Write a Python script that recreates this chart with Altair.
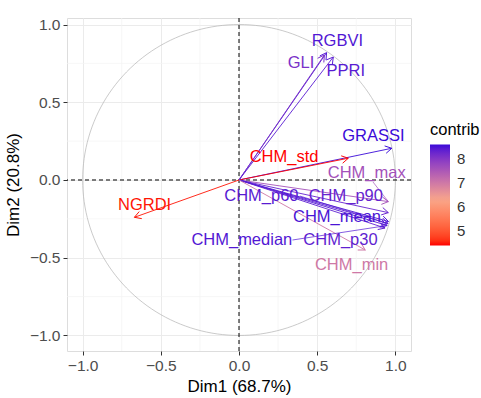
import altair as alt
import pandas as pd

# ---- data ----
names = ["RGBVI", "GLI", "PPRI", "GRASSI", "CHM_std", "NGRDI", "CHM_max",
         "CHM_p90", "CHM_mean", "CHM_p60", "CHM_median", "CHM_p30", "CHM_min"]
dim1 = [0.560, 0.546, 0.603, 0.977, 0.699, -0.669, 0.955,
        0.955, 0.956, 0.953, 0.947, 0.934, 0.807]
dim2 = [0.819, 0.804, 0.791, 0.204, 0.140, -0.240, -0.139,
        -0.210, -0.267, -0.280, -0.293, -0.309, -0.450]
contrib = [8.45, 8.10, 8.40, 8.59, 4.40, 4.45, 7.60,
           8.30, 8.50, 8.40, 8.45, 8.35, 7.00]
label_x = [0.629, 0.397, 0.683, 0.859, 0.288, -0.604, 0.817,
           0.683, 0.627, 0.143, 0.018, 0.649, 0.720]
label_y = [0.896, 0.754, 0.703, 0.283, 0.150, -0.161, 0.043,
           -0.103, -0.240, -0.103, -0.386, -0.386, -0.547]

# repel connector segments (label edge -> arrow tip)
conn_names = ["CHM_max", "CHM_p60", "CHM_median"]
conn_x = [0.857, 0.389, 0.342]
conn_y = [-0.013, -0.103, -0.386]

major_ticks = [-1.0, -0.5, 0.0, 0.5, 1.0]
minor_ticks = [-0.75, -0.25, 0.25, 0.75]
legend_ticks = [5, 6, 7, 8]

df = pd.DataFrame({"name": names, "dim1": dim1, "dim2": dim2, "contrib": contrib,
                   "lx": label_x, "ly": label_y})
conn = pd.DataFrame({"name": conn_names, "cx": conn_x, "cy": conn_y}).merge(
    df[["name", "dim1", "dim2", "contrib"]], on="name")

FONT = "Liberation Sans"
W, H = 344, 333

xs = alt.Scale(domain=[-1.1, 1.1], nice=False, zero=False)
ys = alt.Scale(domain=[-1.10, 1.042], nice=False, zero=False)
xaxis = alt.Axis(values=major_ticks, format=".1f", grid=True, gridColor="#EBEBEB",
                 gridWidth=1, domain=False, ticks=True, tickSize=4, tickColor="#333333",
                 labelFontSize=15.5, labelColor="#4D4D4D", labelFont=FONT, labelPadding=3,
                 titleFontSize=17, titleFont=FONT, titleFontWeight="normal",
                 titleColor="black", titlePadding=5)
yaxis = alt.Axis(values=major_ticks, format=".1f", grid=True, gridColor="#EBEBEB",
                 gridWidth=1, domain=False, ticks=True, tickSize=4, tickColor="#333333",
                 labelFontSize=15.5, labelColor="#4D4D4D", labelFont=FONT, labelPadding=3,
                 titleFontSize=17, titleFont=FONT, titleFontWeight="normal",
                 titleColor="black", titlePadding=7)
XT = "Dim1 (68.7%)"
YT = "Dim2 (20.8%)"

cscale = alt.Scale(domain=[4.40, 6.3, 8.59],
                   range=["#FF0000", "#F9A68A", "#3A0AD8"], interpolate="lab")
legend = alt.Legend(title="contrib", type="gradient", orient="none", legendX=363, legendY=104,
                    direction="vertical", gradientLength=101, gradientThickness=20,
                    values=legend_ticks, titleFontSize=16.5, titleFont=FONT,
                    titleFontWeight="normal", titleColor="black", titlePadding=6,
                    labelFontSize=15, labelFont=FONT, labelColor="#333333",
                    labelOffset=7)
COLOR_LEG = alt.Color("contrib:Q", scale=cscale, legend=legend)
COLOR = alt.Color("contrib:Q", scale=cscale, legend=None)


def X(f):
    return alt.X(f, type="quantitative", scale=xs, axis=xaxis, title=XT)


def Y(f):
    return alt.Y(f, type="quantitative", scale=ys, axis=yaxis, title=YT)


minor_v = alt.Chart(pd.DataFrame({"v": minor_ticks})).mark_rule(
    color="#F3F3F3", strokeWidth=0.7).encode(x=X("v"))
minor_h = alt.Chart(pd.DataFrame({"v": minor_ticks})).mark_rule(
    color="#F3F3F3", strokeWidth=0.7).encode(y=Y("v"))

circle = alt.Chart(alt.sequence(0, 362, 2, as_="t")).transform_calculate(
    cx="cos(datum.t*PI/180)", cy="sin(datum.t*PI/180)"
).mark_line(color="#B3B3B3", strokeWidth=0.7).encode(
    x=X("cx"), y=Y("cy"), order="t:Q")

zero = pd.DataFrame({"v": [0.0]})
vline = alt.Chart(zero).mark_rule(color="black", strokeDash=[4, 3], strokeWidth=1).encode(x=X("v"))
hline = alt.Chart(zero).mark_rule(color="black", strokeDash=[4, 3], strokeWidth=1).encode(y=Y("v"))

base = alt.Chart(df)
shafts = base.transform_calculate(x0="0", y0="0").mark_rule(strokeWidth=0.9).encode(
    x=X("x0"), y=Y("y0"), x2="dim1:Q", y2="dim2:Q", color=COLOR)

head_path = "M -1 -0.577 L 0 0 L -1 0.577"
heads = base.transform_calculate(
    ang="((atan2(-datum.dim2, datum.dim1)*180/PI)+360)%360"
).mark_point(shape=head_path, filled=False, size=169, strokeWidth=0.9, opacity=1).encode(
    x=X("dim1"), y=Y("dim2"), angle=alt.Angle("ang:Q", scale=None), color=COLOR)

connectors = alt.Chart(conn).mark_rule(strokeWidth=0.7).encode(
    x=X("cx"), y=Y("cy"), x2="dim1:Q", y2="dim2:Q", color=COLOR)

labels = base.mark_text(fontSize=16.5, font=FONT, align="center", baseline="middle").encode(
    x=X("lx"), y=Y("ly"), text="name:N", color=COLOR_LEG)

chart = alt.layer(minor_v, minor_h, circle, vline, hline, shafts, heads, connectors, labels).resolve_legend(
    color="independent"
).properties(
    width=W, height=H,
    autosize=alt.AutoSizeParams(type="none"),
    padding={"left": 67, "top": 18, "right": 481 - 67 - W, "bottom": 398 - 18 - H},
).configure_view(stroke="#333333", strokeWidth=1).configure(background="white")

chart.save("out.html", embed_options={"renderer": "svg", "actions": False})
